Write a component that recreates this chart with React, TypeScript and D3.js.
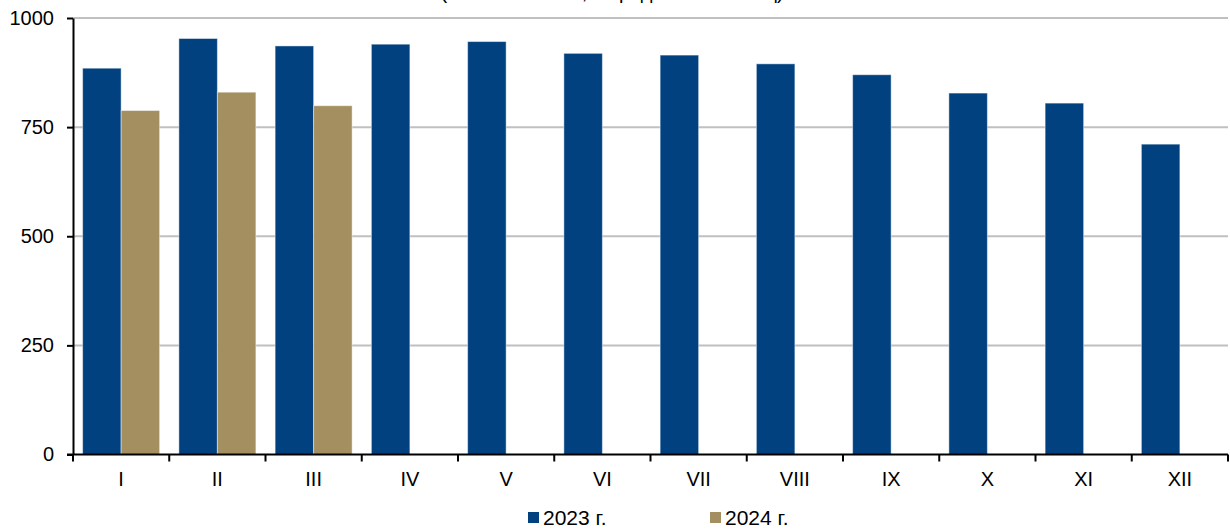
import * as React from 'react';
import {useEffect, useRef} from 'react';
import * as d3 from 'd3';

// months (roman numerals) and monthly values
const months = ['I', 'II', 'III', 'IV', 'V', 'VI', 'VII', 'VIII', 'IX', 'X', 'XI', 'XII'];
const series = ['2023 г.', '2024 г.'];
const values2023 = [885, 953, 936, 940, 946, 919, 915, 895, 870, 828, 805, 711];
const values2024 = [788, 830, 799];
const yTicks = [0, 250, 500, 750, 1000];
const title = '(тысяч человек, в среднем за месяц)';

const colors = ['#01417F', '#A38F5F'];
const W = 1230;
const H = 531;
const FONT = '"Liberation Sans", Arial, sans-serif';

const App = () => {
    const chartRef = useRef(null);

    useEffect(() => {
        document.body.style.margin = '0';
        const svg = d3.select(chartRef.current);
        svg.selectAll('*').remove();

        const left = 73, right = 1228, top = 18, bottom = 454.5;

        const x = d3.scaleBand()
                    .domain(months)
                    .range([left, right])
                    .paddingInner(0.2)
                    .paddingOuter(0.1);
        const x1 = d3.scaleBand()
                    .domain(series)
                    .range([0, x.bandwidth()]);
        const xBound = d3.scaleLinear()
                    .domain([0, months.length])
                    .range([left, right]);
        const y = d3.scaleLinear()
                    .domain([0, 1000])
                    .range([bottom, top]);

        // title (cut off at the top edge, as in the source)
        svg.append('text')
            .attr('x', 612)
            .attr('y', -1)
            .attr('text-anchor', 'middle')
            .style('font-family', FONT)
            .style('font-size', '20px')
            .text(title);

        // gridlines
        svg.append('g')
            .selectAll('line')
            .data(yTicks.filter(d => d > 0))
            .enter()
            .append('line')
            .attr('x1', left)
            .attr('x2', right)
            .attr('y1', d => y(d))
            .attr('y2', d => y(d))
            .attr('stroke', '#C0C0C0')
            .attr('stroke-width', 2);

        // bars
        const rows = months.map((m, i) => ({
            month: m,
            vals: [
                {s: series[0], v: values2023[i]},
                {s: series[1], v: values2024[i]}
            ].filter(d => d.v !== undefined)
        }));

        svg.append('g')
            .selectAll('g')
            .data(rows)
            .enter()
            .append('g')
            .attr('transform', d => `translate(${x(d.month)},0)`)
            .selectAll('rect')
            .data(d => d.vals)
            .enter()
            .append('rect')
            .attr('x', d => x1(d.s))
            .attr('y', d => y(d.v))
            .attr('width', x1.bandwidth())
            .attr('height', d => bottom - y(d.v))
            .attr('fill', d => colors[series.indexOf(d.s)])
            .attr('stroke', 'rgba(255,255,255,0.45)')
            .attr('stroke-width', 1);

        // y axis
        const yAxis = svg.append('g')
            .attr('transform', `translate(${left},0)`)
            .call(d3.axisLeft(y)
                .tickValues(yTicks)
                .tickFormat(d3.format('d'))
                .tickSize(6)
                .tickSizeOuter(0)
                .tickPadding(13));
        yAxis.select('.domain').attr('stroke', '#000').attr('stroke-width', 2);
        yAxis.selectAll('.tick line').attr('stroke', '#000').attr('stroke-width', 2);
        yAxis.selectAll('text')
            .style('font-family', FONT)
            .style('font-size', '20px')
            .attr('fill', '#000');

        // x axis line + boundary ticks
        svg.append('line')
            .attr('x1', left - 6)
            .attr('x2', right)
            .attr('y1', bottom)
            .attr('y2', bottom)
            .attr('stroke', '#000')
            .attr('stroke-width', 2);

        svg.append('g')
            .selectAll('line')
            .data(d3.range(months.length + 1))
            .enter()
            .append('line')
            .attr('x1', d => xBound(d))
            .attr('x2', d => xBound(d))
            .attr('y1', bottom)
            .attr('y2', bottom + 7)
            .attr('stroke', '#000')
            .attr('stroke-width', 2);

        svg.append('g')
            .selectAll('text')
            .data(months)
            .enter()
            .append('text')
            .attr('x', d => x(d) + x.bandwidth() / 2)
            .attr('y', 486)
            .attr('text-anchor', 'middle')
            .style('font-family', FONT)
            .style('font-size', '20px')
            .text(d => d);

        // legend
        const legendX = [528, 710];
        const legend = svg.append('g')
            .selectAll('g')
            .data(series)
            .enter()
            .append('g')
            .attr('transform', (d, i) => `translate(${legendX[i]},512)`);
        legend.append('rect')
            .attr('width', 11)
            .attr('height', 11)
            .attr('fill', (d, i) => colors[i]);
        legend.append('text')
            .attr('x', 15)
            .attr('y', 13)
            .style('font-family', FONT)
            .style('font-size', '21px')
            .text(d => d);
    }, []);

    return (
        <svg ref={chartRef} width={W} height={H} style={{display: 'block'}}></svg>
    );
};

export default App;
